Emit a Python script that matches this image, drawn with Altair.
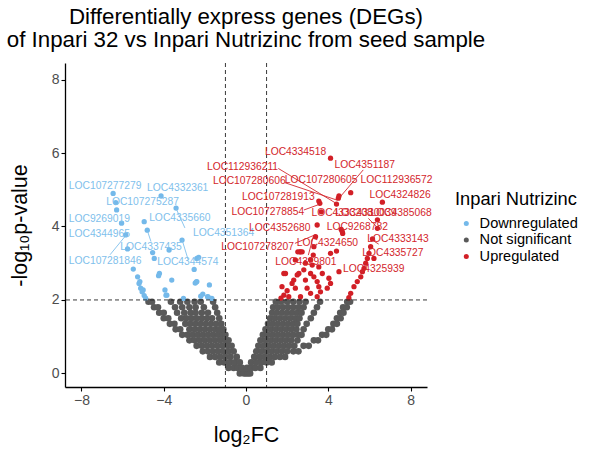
import altair as alt
import pandas as pd

# ---------------- data ----------------
# grey (not significant) points, given as rows: one y level and the x values seen on it
grey_levels = [0.0, 0.15, 0.3, 0.45, 0.6, 0.75, 0.9, 1.05, 1.2, 1.35, 1.5, 1.65, 1.8, 1.95]
grey_rows = [
    [-0.3, -0.1, 0.0, 0.1, 0.2],
    [-0.85, -0.6, -0.4, -0.2, 0.05, 0.25, 0.45, 0.7],
    [-1.3, -1.05, -0.8, -0.55, -0.3, 0.25, 0.5, 0.75, 1.0, 1.25],
    [-1.75, -1.5, -1.25, -1.0, -0.75, -0.45, 0.4, 0.65, 0.9, 1.15, 1.4, 1.65, 1.9],
    [-2.1, -1.85, -1.6, -1.35, -1.1, -0.85, -0.6, 0.5, 0.75, 1.0, 1.25, 1.5, 1.75, 2.0, 2.3, 2.55],
    [-2.4, -2.15, -1.9, -1.65, -1.4, -1.15, -0.9, -0.7, 0.6, 0.85, 1.1, 1.35, 1.6, 1.85, 2.1, 2.35, 2.8, 3.05],
    [-2.75, -2.5, -2.25, -2.0, -1.75, -1.5, -1.25, -1.0, -0.85, 0.7, 0.95, 1.2, 1.45, 1.7, 1.95, 2.2, 2.5, 3.3, 3.5],
    [-3.1, -2.85, -2.6, -2.35, -2.1, -1.85, -1.6, -1.35, -1.15, -1.0, 0.82, 1.05, 1.3, 1.55, 1.8, 2.05, 2.3, 2.55, 2.7, 3.7, 3.9],
    [-3.42, -3.2, -2.75, -2.5, -2.25, -2.0, -1.75, -1.5, -1.3, -1.1, 0.95, 1.2, 1.45, 1.7, 1.95, 2.2, 2.45, 2.8, 4.0, 4.18],
    [-3.7, -3.48, -2.95, -2.7, -2.45, -2.2, -1.95, -1.7, -1.45, -1.2, 1.07, 1.3, 1.55, 1.8, 2.05, 2.3, 2.5, 2.95, 4.25, 4.42],
    [-4.0, -3.78, -3.15, -2.9, -2.65, -2.4, -2.15, -1.9, -1.65, -1.3, 1.17, 1.4, 1.65, 1.9, 2.15, 2.4, 2.6, 3.15, 4.42, 4.6],
    [-4.22, -4.0, -3.35, -3.0, -2.7, -2.45, -2.15, -1.85, -1.4, 1.27, 1.5, 1.75, 2.0, 2.25, 2.5, 2.7, 3.3, 4.58, 4.74],
    [-4.47, -4.28, -3.45, -3.1, -2.75, -2.45, -2.05, -1.5, 1.32, 1.55, 1.8, 2.05, 2.3, 2.55, 2.8, 3.45, 4.72, 4.9],
    [-4.74, -4.57, -3.65, -3.2, -2.85, -2.5, -2.2, -1.6, 1.45, 1.7, 2.0, 2.3, 2.6, 2.9, 3.6, 4.92, 5.06],
]

down_x = [-6.46, -6.33, -6.29, -6.05, -5.85, -5.76, -5.48, -5.27, -5.2, -5.12, -5.05, -4.95, -4.88,
          -4.13, -3.40, -4.95, -4.80, -4.54, -4.46, -3.74, -3.11, -2.39, -2.30, -2.52, -4.21, -4.25,
          -3.61, -2.42, -2.47, -1.78, -3.94, -3.89, -3.04, -2.1, -1.84, -1.66, -2.2, -5.16, -5.0,
          -3.85, -2.39, -1.87]
down_y = [4.90, 4.65, 4.45, 4.09, 3.77, 3.39, 2.84, 2.63, 2.45, 2.32, 2.22, 2.12, 2.05,
          4.83, 4.50, 4.13, 3.90, 3.29, 3.13, 3.36, 3.63, 3.13, 3.16, 2.83, 2.72, 2.66,
          2.54, 2.49, 2.46, 2.41, 2.27, 2.13, 2.04, 2.16, 2.08, 2.04, 2.10, 2.50, 2.27,
          2.13, 2.50, 2.09]

up_x = [4.11, 5.09, 4.52, 4.49, 4.40, 3.54, 3.59, 3.66, 6.63, 6.39, 3.46, 4.63, 4.70, 6.15, 3.38,
        4.40, 2.62, 2.73, 2.40, 3.27, 6.22, 4.68, 6.06, 5.98, 5.90, 5.82, 5.74, 5.66, 6.39, 3.14,
        3.22, 3.30, 2.65, 2.52, 4.11, 3.54, 2.89, 1.84, 2.57, 3.14, 3.71, 4.52,
        1.92, 1.75, 2.24, 2.40, 2.32, 2.89, 2.97, 2.49, 3.30, 3.46, 3.54, 4.03, 4.11, 3.95,
        1.84, 2.08, 2.65, 3.14, 3.46, 3.62, 2.81, 5.58, 5.41, 5.25, 5.09, 5.00, 1.70, 2.00]
up_y = [5.86, 4.92, 4.83, 4.77, 4.61, 4.69, 4.63, 4.40, 4.66, 4.18, 4.04, 3.92, 3.81, 3.66, 3.72,
        3.33, 3.31, 3.31, 3.09, 3.22, 3.13, 3.86, 3.45, 3.27, 3.13, 3.00, 2.86, 2.77, 3.95, 3.09,
        2.95, 3.45, 3.31, 3.31, 3.27, 2.90, 3.00, 2.72, 2.72, 2.72, 2.72, 2.77,
        2.72, 2.36, 2.45, 2.32, 2.54, 2.54, 2.32, 2.68, 2.63, 2.50, 2.36, 2.59, 2.45, 2.32,
        2.13, 2.09, 2.09, 2.18, 2.09, 2.22, 2.82, 2.63, 2.50, 2.36, 2.18, 2.06, 2.05, 2.25]

down_labels = ["LOC107277279", "LOC4332361", "LOC107275287", "LOC9269019", "LOC4335660",
               "LOC4344965", "LOC4351364", "LOC4337435", "LOC107281846", "LOC4344574"]
down_label_x = [-6.85, -3.32, -5.03, -7.13, -3.22, -7.13, -1.09, -4.62, -6.85, -2.83]
down_label_y = [5.10, 5.05, 4.67, 4.20, 4.24, 3.79, 3.82, 3.43, 3.07, 3.04]

up_labels = ["LOC4334518", "LOC4351187", "LOC112936211", "LOC107280606", "LOC107280605",
             "LOC112936572", "LOC4324826", "LOC107281913", "LOC107278854", "LOC4333208",
             "LOC4330039", "LOC4385068", "LOC4352680", "LOC9268782", "LOC4333143",
             "LOC107278207", "LOC4324650", "LOC4335727", "LOC4329801", "LOC4325939"]
up_label_x = [2.41, 5.77, -0.17, 0.16, 3.65, 7.32, 7.49, 1.57, 1.06, 4.67,
              5.83, 7.54, 1.64, 5.41, 7.39, 0.56, 3.96, 7.14, 2.91, 6.21]
up_label_y = [6.03, 5.67, 5.63, 5.24, 5.26, 5.26, 4.86, 4.81, 4.40, 4.36,
              4.36, 4.36, 3.97, 3.99, 3.65, 3.45, 3.54, 3.27, 3.04, 2.84]

# label connector segments (label end -> point)
down_seg_x = [-6.61, -4.78, -3.40, -3.11]
down_seg_y = [3.23, 3.86, 4.49, 3.64]
down_seg_x2 = [-5.88, -4.62, -2.97, -2.81]
down_seg_y2 = [3.73, 3.59, 3.96, 3.09]

up_seg_x = [1.57, 1.90, 5.70, 2.82, 2.38, 3.27, 5.95, 6.11]
up_seg_y = [5.58, 5.19, 5.54, 4.45, 3.54, 3.72, 4.22, 3.64]
up_seg_x2 = [4.38, 4.41, 4.57, 3.51, 3.35, 3.03, 6.35, 6.45]
up_seg_y2 = [4.63, 4.72, 4.80, 4.59, 3.77, 3.22, 3.99, 3.52]

fc_cut = [-1, 1]
p_cut = [2]

categories = ["Downregulated", "Not significant", "Upregulated"]
palette = ["#74B9EA", "#595959", "#D21F26"]
BLUE_TXT = "#7FBFEC"
RED_TXT = "#D3262C"

# ---------------- build tables ----------------
gx, gy = [], []
for lvl, row in zip(grey_levels, grey_rows):
    for v in row:
        gx.append(v)
        gy.append(lvl)

pts = pd.concat([
    pd.DataFrame({"x": gx, "y": gy, "status": "Not significant"}),
    pd.DataFrame({"x": down_x, "y": down_y, "status": "Downregulated"}),
    pd.DataFrame({"x": up_x, "y": up_y, "status": "Upregulated"}),
], ignore_index=True)
pts["sz"] = [44 if s == "Not significant" else 28 for s in pts["status"]]

FONT = "Liberation Sans"

xscale = alt.Scale(domain=[-8.8, 8.8], nice=False, zero=False)
yscale = alt.Scale(domain=[-0.37, 8.45], nice=False, zero=False)

xaxis = alt.Axis(values=[-8, -4, 0, 4, 8], title="log₂FC", grid=False, titlePadding=17)
yaxis = alt.Axis(values=[0, 2, 4, 6, 8], title="-log₁₀p-value", grid=False, titlePadding=20)

points = alt.Chart(pts).mark_circle(opacity=1).encode(
    x=alt.X("x:Q", scale=xscale, axis=xaxis),
    y=alt.Y("y:Q", scale=yscale, axis=yaxis),
    size=alt.Size("sz:Q", scale=None, legend=None),
    color=alt.Color("status:N", scale=alt.Scale(domain=categories, range=palette),
                    legend=alt.Legend(title="Inpari Nutrizinc", orient="none",
                                      legendX=390, legendY=128)),
)

vlines = alt.Chart(pd.DataFrame({"v": fc_cut})).mark_rule(
    strokeDash=[4, 3], color="#222222", strokeWidth=0.9).encode(x=alt.X("v:Q", scale=xscale))
hlines = alt.Chart(pd.DataFrame({"h": p_cut})).mark_rule(
    strokeDash=[4, 3], color="#222222", strokeWidth=0.9).encode(y=alt.Y("h:Q", scale=yscale))

down_seg = alt.Chart(pd.DataFrame({"x": down_seg_x, "y": down_seg_y,
                                   "x2": down_seg_x2, "y2": down_seg_y2})).mark_rule(
    color=BLUE_TXT, strokeWidth=0.9).encode(x="x:Q", y="y:Q", x2="x2:Q", y2="y2:Q")
up_seg = alt.Chart(pd.DataFrame({"x": up_seg_x, "y": up_seg_y,
                                 "x2": up_seg_x2, "y2": up_seg_y2})).mark_rule(
    color=RED_TXT, strokeWidth=0.9).encode(x="x:Q", y="y:Q", x2="x2:Q", y2="y2:Q")

down_txt = alt.Chart(pd.DataFrame({"x": down_label_x, "y": down_label_y, "t": down_labels})).mark_text(
    font=FONT, fontSize=10.3, color=BLUE_TXT).encode(x="x:Q", y="y:Q", text="t:N")
up_txt = alt.Chart(pd.DataFrame({"x": up_label_x, "y": up_label_y, "t": up_labels})).mark_text(
    font=FONT, fontSize=10.3, color=RED_TXT).encode(x="x:Q", y="y:Q", text="t:N")

chart = alt.layer(points, vlines, hlines, down_seg, up_seg, down_txt, up_txt).properties(
    width=362, height=324,
    title=alt.Title(["Differentially express genes (DEGs)",
                     "of Inpari 32 vs Inpari Nutrizinc from seed sample"],
                    font=FONT, fontSize=22.3, fontWeight="normal", color="black",
                    anchor="middle", lineHeight=23.5, offset=11),
    autosize=alt.AutoSizeParams(type="none"),
    padding={"left": 65, "top": 63, "right": 171, "bottom": 78},
).configure_view(stroke=None).configure_axis(
    labelFont=FONT, labelFontSize=14, labelColor="#4D4D4D",
    titleFont=FONT, titleFontSize=21.5, titleFontWeight="normal", titleColor="black",
    domainColor="black", domainWidth=1.3, tickColor="black", tickSize=4, tickWidth=1.1,
    labelPadding=2,
).configure_legend(
    titleFont=FONT, titleFontSize=18.3, titleFontWeight="normal", titleColor="black",
    labelFont=FONT, labelFontSize=14.6, labelColor="black",
    symbolType="circle", symbolSize=25, symbolStrokeWidth=0, symbolOffset=4,
    labelOffset=6, rowPadding=1.5, titlePadding=7, padding=0,
)

chart.save("out.html", embed_options={"renderer": "svg", "actions": False})
